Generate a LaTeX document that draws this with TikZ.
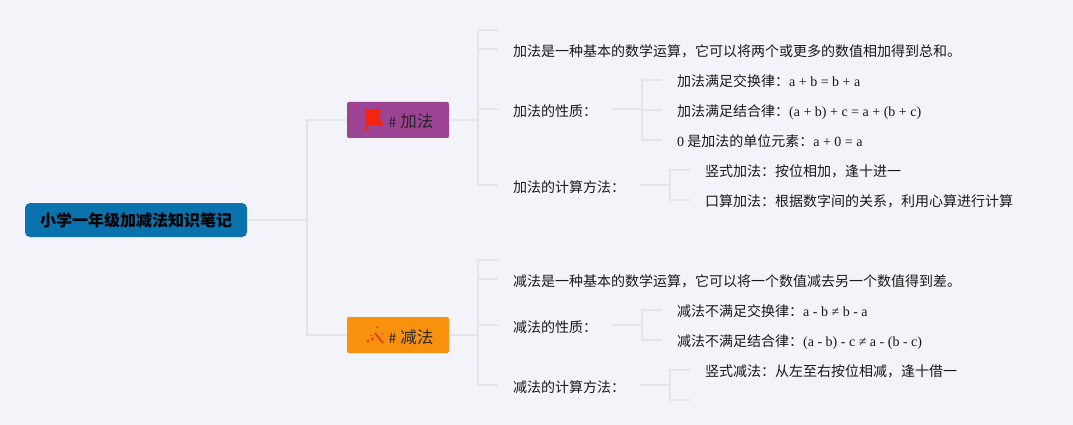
\documentclass[tikz,border=0pt]{standalone}
\usepackage{fontspec}
\usepackage{xcolor}
\setmainfont{Noto Sans CJK SC}
\newfontfamily\latfont{Liberation Serif}
\usetikzlibrary{positioning, calc}

\definecolor{pagebg}{HTML}{F3F3FA}
\definecolor{linkgray}{HTML}{E4E4EB}
\definecolor{rootblue}{HTML}{0A72AC}
\definecolor{addpurple}{HTML}{9C4394}
\definecolor{suborange}{HTML}{F8920E}
\definecolor{iconred}{HTML}{F5240F}
\definecolor{wandred}{HTML}{E2420F}

\begin{document}
\begin{tikzpicture}[
    x=1pt, y=-1pt,
    rootbox/.style={rectangle, rounded corners=5pt, minimum height=34pt, minimum width=222pt, inner sep=0pt, fill=rootblue, font=\fontsize{16}{16}\selectfont\bfseries, text=black},
    topicbox/.style={rectangle, rounded corners=2pt, minimum height=36pt, minimum width=102pt, inner sep=0pt, text height=16pt, text depth=0pt, font=\fontsize{16}{16}\selectfont, text=black!85},
    leaf/.style={anchor=west, inner xsep=15pt, inner ysep=0pt, text height=15pt, text depth=0pt, font=\fontsize{14}{14}\selectfont, text=black!90},
    subleaf/.style={leaf, text height=13pt},
    link/.style={draw=linkgray, line width=1.5pt}
]

% Canvas
\fill[pagebg] (0,0) rectangle (1073,425);
\useasboundingbox (0,0) rectangle (1073,425);

% Nodes
\node (root) [rootbox] at (136,220) {小学一年级加减法知识笔记};
\node (add) [topicbox, fill=addpurple] at (398,120) {\hspace{26pt}\fontsize{14}{14}\selectfont\# \hspace{1pt}\fontsize{16.5}{16}\selectfont 加法};
\node (sub) [topicbox, fill=suborange] at (398,335) {\hspace{26pt}\fontsize{14}{14}\selectfont\# \hspace{1pt}\fontsize{16.5}{16}\selectfont 减法};

\node (addintro) [leaf] at (498,49) {加法是一种基本的数学运算，它可以将两个或更多的数值相加得到总和。};
\node (addprop) [leaf] at (498,109) {加法的性质：};
\node (addcalc) [leaf] at (498,185) {加法的计算方法：};
\node (addswap) [subleaf] at (662,80) {加法满足交换律：{\latfont a + b = b + a}};
\node (addassoc) [subleaf] at (662,110) {加法满足结合律：{\latfont (a + b) + c = a + (b + c)}};
\node (addzero) [subleaf] at (662,140) {{\latfont 0} 是加法的单位元素：{\latfont a + 0 = a}};
\node (addcol) [subleaf] at (690,170) {竖式加法：按位相加，逢十进一};
\node (addmind) [subleaf] at (690,200) {口算加法：根据数字间的关系，利用心算进行计算};

\node (subintro) [leaf] at (498,279) {减法是一种基本的数学运算，它可以将一个数值减去另一个数值得到差。};
\node (subprop) [leaf] at (498,325) {减法的性质：};
\node (subcalc) [leaf] at (498,385) {减法的计算方法：};
\node (subswap) [subleaf] at (662,310) {减法不满足交换律：{\latfont a - b ≠ b - a}};
\node (subassoc) [subleaf] at (662,340) {减法不满足结合律：{\latfont (a - b) - c ≠ a - (b - c)}};
\node (subcol) [subleaf] at (690,370) {竖式减法：从左至右按位相减，逢十借一};

% Joints and free ends
\coordinate (rootjoin) at (307,220);
\coordinate (addjoin) at (478,120);
\coordinate (subjoin) at (478,335);
\coordinate (addpropjoin) at (642,109);
\coordinate (addcalcjoin) at (670,185);
\coordinate (subpropjoin) at (642,325);
\coordinate (subcalcjoin) at (670,385);
\coordinate (addblank) at (498,30);
\coordinate (subblank) at (498,260);
\coordinate (subcalcblank) at (690,400);

% Links
\draw[link] (root) -- (rootjoin);
\draw[link] (rootjoin) |- (add);
\draw[link] (rootjoin) |- (sub);
\draw[link] (add) -- (addjoin);
\draw[link] (sub) -- (subjoin);
\draw[link] (addjoin) |- (addblank);
\draw[link] (addjoin) |- (addintro.west);
\draw[link] (addjoin) |- (addprop.west);
\draw[link] (addjoin) |- (addcalc.west);
\draw[link] (subjoin) |- (subblank);
\draw[link] (subjoin) |- (subintro.west);
\draw[link] (subjoin) |- (subprop.west);
\draw[link] (subjoin) |- (subcalc.west);
\draw[link] (addprop.east) -- (addpropjoin);
\draw[link] (addpropjoin) |- (addswap.west);
\draw[link] (addpropjoin) |- (addassoc.west);
\draw[link] (addpropjoin) |- (addzero.west);
\draw[link] (addcalc.east) -- (addcalcjoin);
\draw[link] (addcalcjoin) |- (addcol.west);
\draw[link] (addcalcjoin) |- (addmind.west);
\draw[link] (subprop.east) -- (subpropjoin);
\draw[link] (subpropjoin) |- (subswap.west);
\draw[link] (subpropjoin) |- (subassoc.west);
\draw[link] (subcalc.east) -- (subcalcjoin);
\draw[link] (subcalcjoin) |- (subcol.west);
\draw[link] (subcalcjoin) |- (subcalcblank);

% Icons
\fill[iconred] (365,110) -- (381,110) -- (379,118) -- (384,125) -- (367,125) -- (367,131) -- (365,131) -- cycle;
\draw[wandred, line width=2pt] (375,333) -- (383,343);
\foreach \px/\py/\pr in {368/341/1.6, 372.5/339/1.6, 377/327/1.2, 382.5/334/1, 371/335.5/0.8}
    \fill[wandred] (\px,\py) circle (\pr);

\end{tikzpicture}
\end{document}
